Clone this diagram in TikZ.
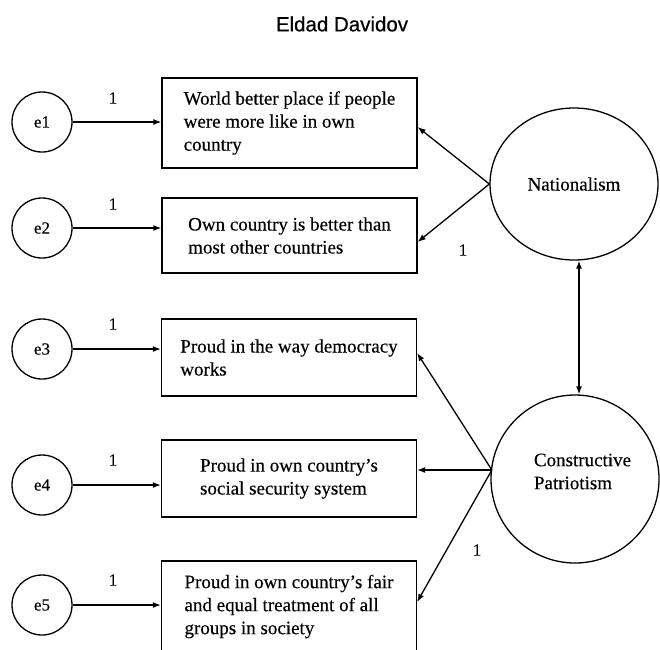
\documentclass[tikz,border=0pt]{standalone}
\usepackage{fontspec}
\setmainfont{Liberation Serif}[UprightFeatures={FakeBold=0.3}]
\newfontfamily\titlefont{Liberation Sans}[UprightFeatures={FakeBold=0.5}]
\usetikzlibrary{arrows.meta,shapes.geometric}
\begin{document}
\begin{tikzpicture}[x=1pt,y=-1pt,
  every node/.style={inner sep=0pt},
  txt/.style={font=\fontsize{19}{23}\selectfont},
  item/.style={draw, line width=1.3pt, rectangle, txt, align=left, minimum width=255pt},
  err/.style={draw, line width=1.3pt, circle, minimum size=60pt, font=\fontsize{17}{20}\selectfont},
  lat/.style={draw, line width=1.3pt, ellipse, txt},
  lab/.style={font=\fontsize{17}{20}\selectfont},
  arr/.style={line width=1.3pt, -{Latex[length=8pt,width=6pt]}},
  darr/.style={line width=1.3pt, {Latex[length=8pt,width=6pt]}-{Latex[length=8pt,width=6pt]}}]
\useasboundingbox (0,0) rectangle (660,649);

\node[font=\titlefont\fontsize{20.5}{24}\selectfont] (title) at (342,24) {Eldad Davidov};

% indicator boxes
\node[item, minimum height=90pt] (b1) at (289.5,123) {World better place if people\\were more like in own\\country};
\node[item, minimum height=75pt] (b2) at (289.5,235.5) {Own country is better than\\most other countries};
\node[item, minimum height=77pt] (b3) at (289,357.5) {Proud in the way democracy\\works};
\node[item, minimum height=77pt] (b4) at (289,478.5) {Proud in own country's\\social security system};
\node[item, minimum height=91pt] (b5) at (289,606.5) {Proud in own country's fair\\and equal treatment of all\\groups in society};

% error terms
\node[err] (e1) at (42,122) {e1};
\node[err] (e2) at (42,228) {e2};
\node[err] (e3) at (42,349) {e3};
\node[err] (e4) at (42,485) {e4};
\node[err] (e5) at (42,605) {e5};

\foreach \i in {1,...,5}{
  \draw[arr] (e\i.east) -- (e\i.east -| b\i.west);
}
\node[lab] (l1) at (113,98) {1};
\node[lab] (l2) at (113,204) {1};
\node[lab] (l3) at (113,324) {1};
\node[lab] (l4) at (113,460) {1};
\node[lab] (l5) at (113,580) {1};

% latent variables
\node[lat, minimum width=168pt, minimum height=152pt] (N) at (574,184) {Nationalism};
\node[lat, minimum width=168pt, minimum height=168pt] (CP) at (575,479) {};
\node[txt, align=left] (cpt) at (582.5,471.5) {Constructive\\Patriotism};

\draw[arr] (N.west) -- ([yshift=-4pt]b1.east);
\draw[arr] (N.west) -- ([yshift=-6.5pt]b2.east);
\node[lab] (ln) at (463,250) {1};

\draw[darr] ([xshift=5pt]N.south) -- ([xshift=5pt]N.south |- CP.north);

\coordinate (cpo) at ([yshift=9pt,xshift=1.5pt]CP.west);
\draw[arr] (cpo) -- ([yshift=4.5pt]b3.east);
\draw[arr] (cpo) -- ([yshift=8.5pt]b4.east);
\draw[arr] (cpo) -- ([yshift=4.5pt]b5.east);
\node[lab] (lc) at (477,550) {1};
\end{tikzpicture}
\end{document}
